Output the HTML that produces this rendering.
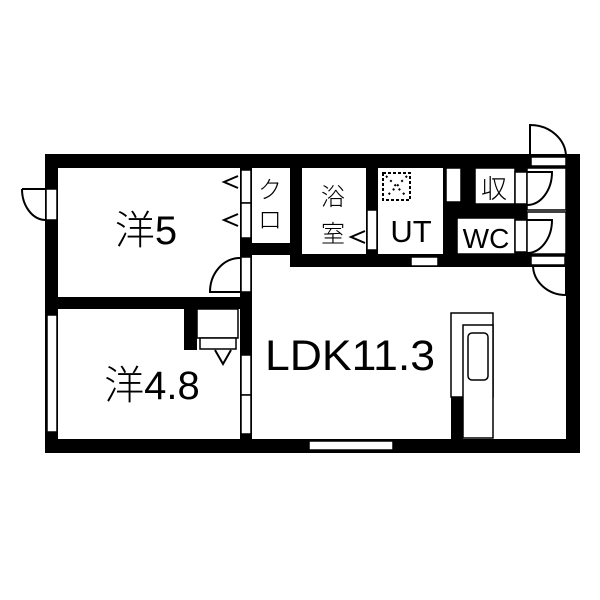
<!DOCTYPE html>
<html><head><meta charset="utf-8"><style>body{margin:0;background:#fff}svg{display:block}</style></head><body>
<svg width="600" height="600" viewBox="0 0 600 600" xmlns="http://www.w3.org/2000/svg">
<rect width="600" height="600" fill="#fff"/>
<g fill="#000">
<rect x="45" y="154" width="535" height="14"/>
<rect x="45" y="439" width="535" height="14"/>
<rect x="45" y="154" width="13" height="299"/>
<rect x="566" y="154" width="14" height="299"/>
<rect x="58" y="297" width="194" height="12"/>
<rect x="240" y="168" width="12" height="285"/>
<rect x="252" y="243" width="50" height="12"/>
<rect x="290" y="168" width="12" height="99"/>
<rect x="290" y="254" width="276" height="13"/>
<rect x="366" y="168" width="12" height="99"/>
<rect x="443" y="168" width="84" height="99"/>
<rect x="184" y="309" width="13" height="41"/>
<rect x="451" y="397" width="12" height="42"/>
</g>
<g fill="#fff" stroke="#000" stroke-width="1.5">
<rect x="475" y="168" width="40" height="36"/>
<rect x="457" y="218" width="58" height="36"/>
<rect x="446" y="168" width="15" height="34"/>
<rect x="515" y="172" width="12" height="32"/>
<rect x="515" y="220" width="12" height="32"/>
<rect x="527" y="168" width="39" height="42"/>
<rect x="527" y="212" width="39" height="42"/>
<rect x="46" y="189" width="11" height="31"/>
<rect x="47" y="315" width="10" height="117"/>
<rect x="241" y="170" width="10" height="33"/>
<rect x="241" y="203" width="10" height="35"/>
<rect x="241" y="257" width="10" height="35"/>
<rect x="241" y="355" width="10" height="40"/>
<rect x="241" y="395" width="10" height="39"/>
<rect x="367" y="210" width="10" height="40"/>
<rect x="411" y="257" width="27" height="9"/>
<rect x="309" y="441" width="84" height="9"/>
<rect x="531" y="157" width="35" height="9"/>
<rect x="531" y="256" width="34" height="9"/>
<rect x="197" y="309" width="41" height="29"/>
<rect x="200" y="338" width="36" height="11"/>
<rect x="451" y="313" width="42" height="84"/>
<rect x="463" y="325" width="30" height="113"/>
<rect x="468" y="333" width="20" height="47" rx="4"/>
</g>
<g fill="none" stroke="#000" stroke-width="2">
<path d="M22,189 H45 M22,189 A24,31 0 0 0 45,220"/>
<path d="M240,258 A30,34 0 0 0 210,292 H240"/>
<path d="M530,157 V125 A36,32 0 0 1 566,157"/>
<path d="M527,172 H552 A25,33 0 0 1 527,205"/>
<path d="M527,220 H552 A25,33 0 0 1 527,253"/>
<path d="M533,265 A33,30 0 0 0 566,295 V265"/>
<rect x="383" y="173" width="27" height="27" stroke-dasharray="3,2"/>
<path d="M386,176 L407,197 M407,176 L386,197" stroke-dasharray="2,4"/>
<path d="M238,176 L224,182 L238,188"/>
<path d="M238,214 L224,220 L238,226"/>
<path d="M365,231 L351,237 L365,243"/>
<path d="M215,350 L223,364 L231,350"/>
</g>
<g font-family="'Liberation Sans','Noto Sans CJK JP',sans-serif" fill="#000" text-anchor="middle" font-weight="300">
<text x="146" y="244" font-size="40">洋5</text>
<text x="152" y="399" font-size="40">洋4.8</text>
<text x="350" y="370" font-size="43" textLength="170" lengthAdjust="spacingAndGlyphs">LDK11.3</text>
<text x="270" y="198" font-size="24">ク</text>
<text x="270" y="228" font-size="24">ロ</text>
<text x="333" y="205" font-size="24">浴</text>
<text x="333" y="242" font-size="24">室</text>
<text x="411" y="242" font-size="31">UT</text>
<text x="494" y="198" font-size="26">収</text>
<text x="486" y="248" font-size="28">WC</text>
</g>
</svg>
</body></html>
